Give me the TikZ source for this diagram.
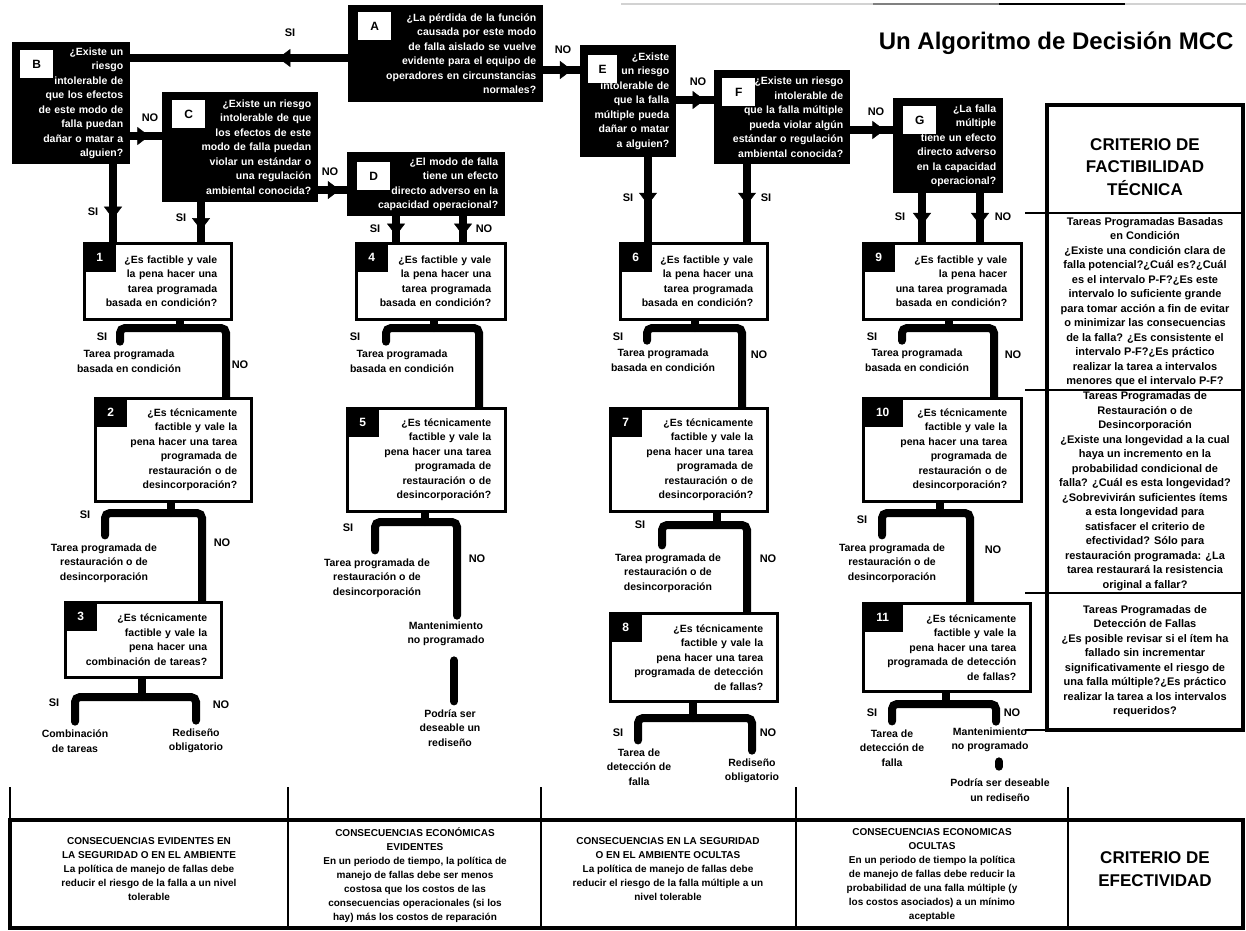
\documentclass[tikz,border=0pt]{standalone}
\usepackage{fontspec}
\setmainfont{Liberation Sans}
\usetikzlibrary{calc,positioning,arrows.meta,decorations.markings,backgrounds}

\newcommand{\qfont}{\fontsize{10.5}{14.5}\selectfont\bfseries}
\newcommand{\ynfont}{\fontsize{11}{13}\selectfont\bfseries}
\newcommand{\tagfont}{\fontsize{12}{14}\selectfont\bfseries}
\newcommand{\panelfont}{\fontsize{11}{14.5}\selectfont\bfseries}
\newcommand{\cellfont}{\fontsize{10}{14}\selectfont\bfseries}
\newcommand{\headfont}{\fontsize{17}{22.5}\selectfont\bfseries}
\newcommand{\titlefont}{\fontsize{24}{28}\selectfont\bfseries}

\tikzset{
  qdark/.style={fill=black,text=white,anchor=north west,align=right,
    inner xsep=7pt,inner ysep=0pt,font=\qfont},
  qlight/.style={draw=black,line width=2.5pt,fill=white,anchor=north west,
    align=right,inner xsep=14pt,inner ysep=0pt,font=\qfont},
  ltag/.style={fill=white,anchor=north west,minimum width=33pt,
    minimum height=28pt,inner sep=0pt,font=\tagfont},
  ntag/.style={fill=black,text=white,anchor=north west,minimum width=33pt,
    minimum height=30pt,inner sep=0pt,font=\tagfont},
  flow/.style={line width=8pt,line cap=round},
  fork/.style={line width=8pt,line cap=round,rounded corners=5pt},
  midarrow/.style={postaction={decorate},decoration={markings,
    mark=at position #1 with {\arrow{Triangle[width=18pt,length=12pt,line width=0.5pt]}}}},
  yn/.style={font=\ynfont,inner sep=0pt},
  res/.style={font=\qfont,align=center,inner sep=0pt},
  cell/.style={font=\cellfont,align=center,inner sep=0pt},
  rule/.style={line width=1.2pt},
  frame/.style={line width=4pt},
}

\begin{document}
\begin{tikzpicture}[x=1pt,y=-1pt]
	\useasboundingbox (0,0) rectangle (1246,930);
	% top rule and title
	\draw[line width=2pt,gray!35] (621,4) -- (1246,4);
	\draw[line width=2pt,gray] (873,4) -- (999,4);
	\draw[line width=2pt,black] (999,4) -- (1125,4);
	\node[font=\titlefont,anchor=east] (title) at (1237,43) {Un Algoritmo de Decisión MCC};

	% lettered questions
	\node[qdark,text width=181pt,minimum height=97pt] (A) at (348,5) {¿La pérdida de la función\\causada por este modo\\de falla aislado se vuelve\\evidente para el equipo de\\operadores en circunstancias\\normales?};
	\node[qdark,text width=104pt,minimum height=122pt] (B) at (12,42) {¿Existe un\\riesgo\\intolerable de\\que los efectos\\de este modo de\\falla puedan\\dañar o matar a\\alguien?};
	\node[qdark,text width=142pt,minimum height=110pt] (C) at (162,92) {¿Existe un riesgo\\intolerable de que\\los efectos de este\\modo de falla puedan\\violar un estándar o\\una regulación\\ambiental conocida?};
	\node[qdark,text width=144pt,minimum height=64pt] (D) at (347,152) {¿El modo de falla\\tiene un efecto\\directo adverso en la\\capacidad operacional?};
	\node[qdark,text width=82pt,minimum height=112pt] (E) at (580,45) {¿Existe\\un riesgo\\intolerable de\\que la falla\\múltiple pueda\\dañar o matar\\a alguien?};
	\node[qdark,text width=122pt,minimum height=94pt] (F) at (714,70) {¿Existe un riesgo\\intolerable de\\que la falla múltiple\\pueda violar algún\\estándar o regulación\\ambiental conocida?};
	\node[qdark,text width=96pt,minimum height=95pt] (G) at (893,98) {¿La falla\\múltiple\\tiene un efecto\\directo adverso\\en la capacidad\\operacional?};
	\node[ltag] (tA) at ($(A.north west)+(10,7)$) {A};
	\node[ltag] (tB) at ($(B.north west)+(8,8)$) {B};
	\node[ltag] (tC) at ($(C.north west)+(10,8)$) {C};
	\node[ltag] (tD) at ($(D.north west)+(10,10)$) {D};
	\node[ltag,minimum width=29pt] (tE) at ($(E.north west)+(8,10)$) {E};
	\node[ltag] (tF) at ($(F.north west)+(8,8)$) {F};
	\node[ltag] (tG) at ($(G.north west)+(10,8)$) {G};

	% numbered questions
	\node[qlight,text width=119pt,minimum height=76pt] (q1) at (83,242) {¿Es factible y vale\\la pena hacer una\\tarea programada\\basada en condición?};
	\node[qlight,text width=128pt,minimum height=103pt] (q2) at (94,397) {¿Es técnicamente\\factible y vale la\\pena hacer una tarea\\programada de\\restauración o de\\desincorporación?};
	\node[qlight,text width=128pt,minimum height=75pt] (q3) at (64,601) {¿Es técnicamente\\factible y vale la\\pena hacer una\\combinación de tareas?};
	\node[qlight,text width=121pt,minimum height=76pt] (q4) at (355,242) {¿Es factible y vale\\la pena hacer una\\tarea programada\\basada en condición?};
	\node[qlight,text width=130pt,minimum height=103pt] (q5) at (346,407) {¿Es técnicamente\\factible y vale la\\pena hacer una tarea\\programada de\\restauración o de\\desincorporación?};
	\node[qlight,text width=119pt,minimum height=76pt] (q6) at (619,242) {¿Es factible y vale\\la pena hacer una\\tarea programada\\basada en condición?};
	\node[qlight,text width=129pt,minimum height=103pt] (q7) at (609,407) {¿Es técnicamente\\factible y vale la\\pena hacer una tarea\\programada de\\restauración o de\\desincorporación?};
	\node[qlight,text width=139pt,minimum height=88pt] (q8) at (609,612) {¿Es técnicamente\\factible y vale la\\pena hacer una tarea\\programada de detección\\de fallas?};
	\node[qlight,text width=130pt,minimum height=76pt] (q9) at (862,242) {¿Es factible y vale\\la pena hacer\\una tarea programada\\basada en condición?};
	\node[qlight,text width=130pt,minimum height=103pt] (q10) at (862,397) {¿Es técnicamente\\factible y vale la\\pena hacer una tarea\\programada de\\restauración o de\\desincorporación?};
	\node[qlight,text width=139pt,minimum height=88pt] (q11) at (862,602) {¿Es técnicamente\\factible y vale la\\pena hacer una tarea\\programada de detección\\de fallas?};
	\node[ntag] (t1) at (q1.north west) {1};
	\node[ntag] (t2) at (q2.north west) {2};
	\node[ntag] (t3) at (q3.north west) {3};
	\node[ntag] (t4) at (q4.north west) {4};
	\node[ntag] (t5) at (q5.north west) {5};
	\node[ntag] (t6) at (q6.north west) {6};
	\node[ntag] (t7) at (q7.north west) {7};
	\node[ntag] (t8) at (q8.north west) {8};
	\node[ntag] (t9) at (q9.north west) {9};
	\node[ntag,minimum width=41pt] (t10) at (q10.north west) {10};
	\node[ntag,minimum width=41pt] (t11) at (q11.north west) {11};

	% outcomes
	\node[res] (r1) at (129,361) {Tarea programada\\basada en condición};
	\node[res] (r2) at (104,563) {Tarea programada de\\restauración o de\\desincorporación};
	\node[res] (r3a) at (75,741) {Combinación\\de tareas};
	\node[res] (r3b) at (196,741) {Rediseño\\obligatorio};
	\node[res] (r4) at (402,361) {Tarea programada\\basada en condición};
	\node[res] (r5) at (377,578) {Tarea programada de\\restauración o de\\desincorporación};
	\node[res] (m5) at (446,634) {Mantenimiento\\no programado};
	\node[res] (p5) at (450,728) {Podría ser\\deseable un\\rediseño};
	\node[res] (r6) at (663,360) {Tarea programada\\basada en condición};
	\node[res] (r7) at (668,573) {Tarea programada de\\restauración o de\\desincorporación};
	\node[res] (r8a) at (639,767) {Tarea de\\detección de\\falla};
	\node[res] (r8b) at (752,771) {Rediseño\\obligatorio};
	\node[res] (r9) at (917,360) {Tarea programada\\basada en condición};
	\node[res] (r10) at (892,563) {Tarea programada de\\restauración o de\\desincorporación};
	\node[res] (r11) at (892,748) {Tarea de\\detección de\\falla};
	\node[res] (m11) at (990,740) {Mantenimiento\\no programado};
	\node[res] (p11) at (1000,790) {Podría ser deseable\\un rediseño};

	% answers
	\node[yn] (lAB) at (290,33) {SI};
	\node[yn] (lAE) at (563,50) {NO};
	\node[yn] (lBC) at (150,118) {NO};
	\node[yn] (lCD) at (330,172) {NO};
	\node[yn] (lEF) at (698,82) {NO};
	\node[yn] (lFG) at (876,112) {NO};
	\node[yn] (lB1) at (93,212) {SI};
	\node[yn] (lC1) at (181,218) {SI};
	\node[yn] (lD4s) at (375,229) {SI};
	\node[yn] (lD4n) at (484,229) {NO};
	\node[yn] (lE6) at (628,198) {SI};
	\node[yn] (lF6) at (766,198) {SI};
	\node[yn] (lG9s) at (900,217) {SI};
	\node[yn] (lG9n) at (1003,217) {NO};
	\node[yn] (l1s) at (102,337) {SI};
	\node[yn] (l1n) at (240,365) {NO};
	\node[yn] (l2s) at (85,515) {SI};
	\node[yn] (l2n) at (222,543) {NO};
	\node[yn] (l3s) at (54,703) {SI};
	\node[yn] (l3n) at (221,705) {NO};
	\node[yn] (l4s) at (355,337) {SI};
	\node[yn] (l5s) at (348,528) {SI};
	\node[yn] (l5n) at (477,559) {NO};
	\node[yn] (l6s) at (618,337) {SI};
	\node[yn] (l6n) at (759,355) {NO};
	\node[yn] (l7s) at (640,525) {SI};
	\node[yn] (l7n) at (768,559) {NO};
	\node[yn] (l8s) at (618,733) {SI};
	\node[yn] (l8n) at (768,733) {NO};
	\node[yn] (l9s) at (872,337) {SI};
	\node[yn] (l9n) at (1013,355) {NO};
	\node[yn] (l10s) at (862,520) {SI};
	\node[yn] (l10n) at (993,550) {NO};
	\node[yn] (l11s) at (872,713) {SI};
	\node[yn] (l11n) at (1012,713) {NO};

	% connectors
	\begin{scope}[on background layer]
	\draw[flow,midarrow=0.32] (A.west |- 0,58) -- (B.east |- 0,58);
	\draw[flow,midarrow=0.78] (A.east |- 0,70) -- (E.west |- 0,70);
	\draw[flow,midarrow=0.6] (B.east |- 0,136) -- (C.west |- 0,136);
	\draw[flow,midarrow=0.75] (C.east |- 0,190) -- (D.west |- 0,190);
	\draw[flow,midarrow=0.75] (E.east |- 0,100) -- (F.west |- 0,100);
	\draw[flow,midarrow=0.8] (F.east |- 0,130) -- (G.west |- 0,130);
	\draw[flow,midarrow=0.7] (B.south -| 113,0) -- (q1.north -| 113,0);
	\draw[flow,midarrow=0.7] (C.south -| 201,0) -- (q1.north -| 201,0);
	\draw[flow,midarrow=0.75] (D.south -| 396,0) -- (q4.north -| 396,0);
	\draw[flow,midarrow=0.75] (D.south -| 463,0) -- (q4.north -| 463,0);
	\draw[flow,midarrow=0.56] (E.south -| 648,0) -- (q6.north -| 648,0);
	\draw[flow,midarrow=0.52] (F.south -| 747,0) -- (q6.north -| 747,0);
	\draw[flow,midarrow=0.65] (G.south -| 922,0) -- (q9.north -| 922,0);
	\draw[flow,midarrow=0.65] (G.south -| 980,0) -- (q9.north -| 980,0);

	\coordinate (k1) at (180,328);
	\draw[flow] (q1.south -| k1) -- (k1);
	\draw[fork] ($(r1.north)+(-9,-8)$) |- (k1) -| (q2.north -| 226,0);
	\coordinate (k2) at (171,513);
	\draw[flow] (q2.south -| k2) -- (k2);
	\draw[fork] ($(r2.north)+(1,-8)$) |- (k2) -| (q3.north -| 202,0);
	\coordinate (k3) at (142,697);
	\draw[flow] (q3.south -| k3) -- (k3);
	\draw[fork] ($(r3a.north)+(0,-8)$) |- (k3) -| ($(r3b.north)+(0,-8)$);
	\coordinate (k4) at (434,328);
	\draw[flow] (q4.south -| k4) -- (k4);
	\draw[fork] ($(r4.north)+(-16,-8)$) |- (k4) -| (q5.north -| 479,0);
	\coordinate (k5) at (425,522);
	\draw[flow] (q5.south -| k5) -- (k5);
	\draw[fork] ($(r5.north)+(-2,-8)$) |- (k5) -| ($(m5.north)+(11,-6)$);
	\draw[flow] ($(m5.south)+(8,14)$) -- ($(p5.north)+(4,-8)$);
	\coordinate (k6) at (695,328);
	\draw[flow] (q6.south -| k6) -- (k6);
	\draw[fork] ($(r6.north)+(-16,-8)$) |- (k6) -| (q7.north -| 742,0);
	\coordinate (k7) at (717,525);
	\draw[flow] (q7.south -| k7) -- (k7);
	\draw[fork] ($(r7.north)+(-6,-8)$) |- (k7) -| (q8.north -| 747,0);
	\coordinate (k8) at (693,718);
	\draw[flow] (q8.south -| k8) -- (k8);
	\draw[fork] ($(r8a.north)+(-1,-8)$) |- (k8) -| ($(r8b.north)+(0,-8)$);
	\coordinate (k9) at (949,328);
	\draw[flow] (q9.south -| k9) -- (k9);
	\draw[fork] ($(r9.north)+(-15,-8)$) |- (k9) -| (q10.north -| 994,0);
	\coordinate (k10) at (940,513);
	\draw[flow] (q10.south -| k10) -- (k10);
	\draw[fork] ($(r10.north)+(-10,-8)$) |- (k10) -| (q11.north -| 970,0);
	\coordinate (k11) at (946,704);
	\draw[flow] (q11.south -| k11) -- (k11);
	\draw[fork] ($(r11.north)+(0,-8)$) |- (k11) -| ($(m11.north)+(6,-6)$);
	\draw[flow] ($(m11.south)+(9,9)$) -- ($(p11.north)+(-1,-12)$);
	\end{scope}

	% technical feasibility panel
	\draw[frame] (1047,105) rectangle (1243,730);
	\draw[rule] (1025,213) -- (1243,213);
	\draw[rule] (1025,390) -- (1243,390);
	\draw[rule] (1025,593) -- (1243,593);
	\draw[rule] (1025,730) -- (1047,730);
	\node[font=\headfont,align=center] (pHead) at (1145,167) {CRITERIO DE\\FACTIBILIDAD\\TÉCNICA};
	\node[font=\panelfont,align=center,inner sep=0pt] (pRow1) at (1145,302) {Tareas Programadas Basadas\\en Condición\\¿Existe una condición clara de\\falla potencial?¿Cuál es?¿Cuál\\es el intervalo P-F?¿Es este\\intervalo lo suficiente grande\\para tomar acción a fin de evitar\\o minimizar las consecuencias\\de la falla? ¿Es consistente el\\intervalo P-F?¿Es práctico\\realizar la tarea a intervalos\\menores que el intervalo P-F?};
	\node[font=\panelfont,align=center,inner sep=0pt] (pRow2) at (1145,491) {Tareas Programadas de\\Restauración o de\\Desincorporación\\¿Existe una longevidad a la cual\\haya un incremento en la\\probabilidad condicional de\\falla? ¿Cuál es esta longevidad?\\¿Sobrevivirán suficientes ítems\\a esta longevidad para\\satisfacer el criterio de\\efectividad? Sólo para\\restauración programada: ¿La\\tarea restaurará la resistencia\\original a fallar?};
	\node[font=\panelfont,align=center,inner sep=0pt] (pRow3) at (1145,661) {Tareas Programadas de\\Detección de Fallas\\¿Es posible revisar si el ítem ha\\fallado sin incrementar\\significativamente el riesgo de\\una falla múltiple?¿Es práctico\\realizar la tarea a los intervalos\\requeridos?};

	% effectiveness table
	\draw[rule] (10,787) -- (10,818);
	\draw[rule] (288,787) -- (288,928);
	\draw[rule] (541,787) -- (541,928);
	\draw[rule] (796,787) -- (796,928);
	\draw[rule] (1068,787) -- (1068,928);
	\draw[frame] (10,820) rectangle (1243,928);
	\node[cell] (c1) at (149,869) {CONSECUENCIAS EVIDENTES EN\\LA SEGURIDAD O EN EL AMBIENTE\\La política de manejo de fallas debe\\reducir el riesgo de la falla a un nivel\\tolerable};
	\node[cell] (c2) at (415,875) {CONSECUENCIAS ECONÓMICAS\\EVIDENTES\\En un periodo de tiempo, la política de\\manejo de fallas debe ser menos\\costosa que los costos de las\\consecuencias operacionales (si los\\hay) más los costos de reparación};
	\node[cell] (c3) at (668,869) {CONSECUENCIAS EN LA SEGURIDAD\\O EN EL AMBIENTE OCULTAS\\La política de manejo de fallas debe\\reducir el riesgo de la falla múltiple a un\\nivel tolerable};
	\node[cell] (c4) at (932,875) {CONSECUENCIAS ECONOMICAS\\OCULTAS\\En un periodo de tiempo la política\\de manejo de fallas debe reducir la\\probabilidad de una falla múltiple (y\\los costos asociados) a un mínimo\\aceptable};
	\node[font=\headfont,align=center] (c5) at (1155,869) {CRITERIO DE\\EFECTIVIDAD};
\end{tikzpicture}
\end{document}
